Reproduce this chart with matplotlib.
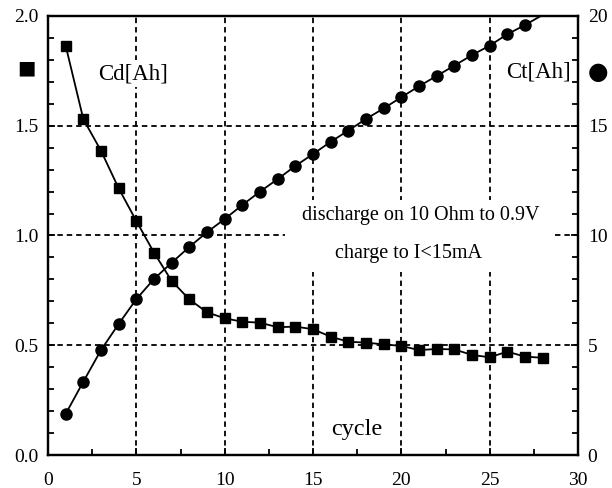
import matplotlib
matplotlib.use("Agg")
import matplotlib.pyplot as plt
from matplotlib.patches import Rectangle
from matplotlib.ticker import MultipleLocator

plt.rcParams['font.family'] = ['Liberation Serif', 'DejaVu Serif']

cycles = list(range(1, 29))
cd_ah = [1.865, 1.53, 1.386, 1.215, 1.066, 0.922, 0.793, 0.709, 0.650, 0.623,
         0.607, 0.603, 0.582, 0.585, 0.573, 0.539, 0.516, 0.512, 0.504, 0.497,
         0.478, 0.483, 0.481, 0.456, 0.445, 0.471, 0.448, 0.443]
ct_ah = [1.87, 3.34, 4.78, 5.97, 7.10, 8.02, 8.76, 9.48, 10.15, 10.75,
         11.39, 12.0, 12.57, 13.17, 13.71, 14.27, 14.78, 15.31, 15.79, 16.30,
         16.80, 17.27, 17.74, 18.22, 18.65, 19.17, 19.59, 20.05]

x_ticks = [0, 5, 10, 15, 20, 25, 30]
left_ticks = [0.0, 0.5, 1.0, 1.5, 2.0]
left_labels = ['0.0', '0.5', '1.0', '1.5', '2.0']
right_ticks = [0, 5, 10, 15, 20]

fig = plt.figure(figsize=(6.12, 4.88), dpi=100)
ax = fig.add_axes([48/612, 33/488, 530/612, 439/488])
ax2 = ax.twinx()

ax.set_xlim(0, 30)
ax.set_ylim(0, 2.0)
ax2.set_ylim(0, 20)

grid_kw = dict(color='black', linestyle=(0, (3.0, 2.2)), linewidth=1.3)
ax.set_axisbelow(True)
ax.set_xticks(x_ticks)
ax.set_yticks(left_ticks)
ax.set_yticklabels(left_labels)
ax.xaxis.set_minor_locator(MultipleLocator(2.5))
ax.yaxis.set_minor_locator(MultipleLocator(0.1))
ax2.set_yticks(right_ticks)
ax2.yaxis.set_minor_locator(MultipleLocator(1))

for xv in x_ticks[1:-1]:
    ax.axvline(xv, zorder=0.6, **grid_kw)
for yv in left_ticks[1:-1]:
    ax.axhline(yv, zorder=0.6, **grid_kw)

# white area behind annotation text
ax.add_patch(Rectangle((13.4, 0.834), 15.2, 0.33, facecolor='white',
                       edgecolor='none', zorder=0.8))

for a in (ax, ax2):
    a.tick_params(which='both', direction='in', labelsize=14, width=1.3)
    a.tick_params(which='major', length=5, pad=7)
    a.tick_params(which='minor', length=4)
    for s in a.spines.values():
        s.set_linewidth(1.6)
ax.tick_params(axis='x', pad=12)

ax2.plot(cycles, ct_ah, color='black', linewidth=1.3, marker='o',
         markersize=8, markevery=list(range(27)), zorder=3)
ax.plot(cycles, cd_ah, color='black', linewidth=1.3, marker='s',
        markersize=7.5, zorder=3)
ax.set_zorder(ax2.get_zorder() + 1)
ax.patch.set_visible(False)

ax.text(4.8, 1.738, 'Cd[Ah]', fontsize=16.5, ha='center', va='center', zorder=1,
        bbox=dict(facecolor='white', edgecolor='none', pad=2))
ax.text(27.75, 1.745, 'Ct[Ah]', fontsize=16.5, ha='center', va='center', zorder=1)
ax.text(21.1, 1.093, 'discharge on 10 Ohm to 0.9V', fontsize=14.5,
        ha='center', va='center', zorder=1)
ax.text(20.4, 0.92, 'charge to I<15mA', fontsize=14.5, ha='center',
        va='center', zorder=1)
ax.text(17.5, 0.115, 'cycle', fontsize=17.5, ha='center', va='center', zorder=1)

# legend symbols outside axes
fig.text(26.7/612, 1 - 68/488, '\u25A0', fontsize=14, ha='center', va='center',
         family=['DejaVu Sans'])
fig.text(598.3/612, 1 - 71.7/488, '\u25CF', fontsize=17, ha='center', va='center',
         family=['DejaVu Sans'])

fig.savefig('out.png', dpi=100)
